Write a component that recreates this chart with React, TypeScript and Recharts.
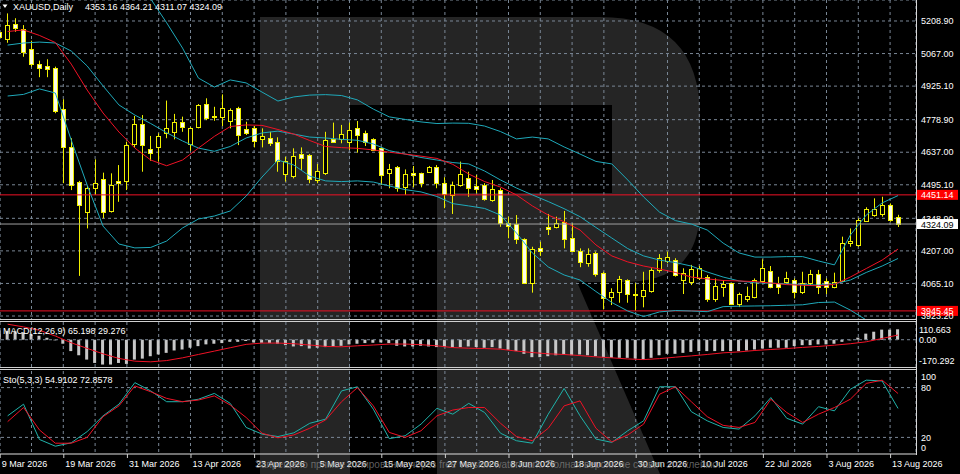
import React from 'react';
import { ComposedChart, Bar, Line, XAxis, YAxis, CartesianGrid, ReferenceLine } from 'recharts';

// XAUUSD daily, one entry per bar, 9 Mar – 14 Aug 2026 (bar 0 is cut by the left edge)
const opens = [
  5162, 5129, 5194, 5173, 5086, 5022, 5011, 5003, 4824, 4661,
  4509, 4378, 4480, 4520, 4382, 4512, 4513, 4673, 4759, 4651,
  4661, 4719, 4726, 4770, 4672, 4746, 4847, 4796, 4792, 4774,
  4828, 4737, 4741, 4693, 4698, 4683, 4542, 4535, 4629, 4625,
  4516, 4545, 4693, 4693, 4683, 4741, 4722, 4693, 4654, 4545,
  4571, 4484, 4545, 4545, 4549, 4574, 4504, 4451, 4494, 4523,
  4490, 4494, 4429, 4472, 4327, 4324, 4257, 4066, 4218, 4310,
  4310, 4334, 4262, 4208, 4153, 4196, 4112, 4007, 4026, 4080,
  4019, 4012, 4034, 4124, 4164, 4167, 4080, 4073, 4088, 4094,
  3998, 4051, 4066, 3976, 3996, 4007, 4077, 4121, 4066, 4073,
  4080, 4029, 4069, 4106, 4077, 4048, 4077, 4240, 4233, 4338,
  4363, 4368, 4407, 4353.16,
];
const highs = [
  5175, 5242, 5221, 5191, 5123, 5036, 5042, 5010, 4868, 4698,
  4512, 4490, 4606, 4548, 4545, 4581, 4683, 4795, 4799, 4708,
  4719, 4862, 4804, 4792, 4746, 4847, 4872, 4835, 4889, 4828,
  4835, 4770, 4751, 4741, 4726, 4702, 4617, 4654, 4658, 4629,
  4586, 4726, 4766, 4756, 4766, 4773, 4731, 4698, 4658, 4586,
  4577, 4562, 4577, 4548, 4577, 4581, 4528, 4509, 4596, 4552,
  4538, 4502, 4516, 4480, 4356, 4363, 4262, 4225, 4247, 4368,
  4356, 4381, 4327, 4218, 4218, 4204, 4116, 4044, 4098, 4083,
  4066, 4116, 4131, 4193, 4204, 4175, 4131, 4146, 4141, 4102,
  4087, 4080, 4068, 4025, 4051, 4087, 4170, 4141, 4094, 4116,
  4087, 4116, 4124, 4124, 4087, 4112, 4269, 4305, 4349, 4397,
  4436, 4443, 4414, 4364.21,
];
const lows = [
  5130, 5114, 5162, 5053, 5010, 4964, 4964, 4807, 4502, 4472,
  4098, 4305, 4451, 4349, 4374, 4421, 4472, 4657, 4552, 4600,
  4596, 4698, 4693, 4726, 4644, 4741, 4777, 4774, 4751, 4741,
  4668, 4712, 4658, 4658, 4664, 4552, 4509, 4523, 4560, 4502,
  4502, 4538, 4678, 4676, 4647, 4635, 4664, 4644, 4494, 4480,
  4465, 4451, 4484, 4484, 4548, 4480, 4393, 4368, 4487, 4443,
  4458, 4426, 4421, 4312, 4262, 4237, 4063, 4025, 4185, 4276,
  4305, 4218, 4204, 4136, 4138, 4095, 3952, 3971, 3981, 3981,
  3946, 3961, 4025, 4112, 4153, 4095, 4019, 4058, 4080, 3985,
  3985, 4007, 3971, 3962, 3985, 4000, 4069, 4044, 4019, 4066,
  4000, 4019, 4058, 4019, 4019, 4044, 4073, 4225, 4225, 4334,
  4356, 4356, 4334, 4311.07,
];
const closes = [
  5140, 5191, 5177, 5075, 5022, 5005, 4998, 4817, 4658, 4494,
  4407, 4482, 4504, 4375, 4494, 4504, 4668, 4759, 4668, 4635,
  4708, 4741, 4767, 4748, 4741, 4841, 4787, 4789, 4831, 4821,
  4712, 4722, 4687, 4708, 4678, 4600, 4599, 4621, 4613, 4519,
  4555, 4690, 4683, 4716, 4734, 4712, 4683, 4647, 4538, 4564,
  4480, 4542, 4539, 4504, 4574, 4504, 4455, 4494, 4541, 4480,
  4475, 4432, 4475, 4327, 4316, 4257, 4066, 4214, 4208, 4304,
  4330, 4257, 4208, 4157, 4193, 4106, 4000, 4026, 4083, 4018,
  4015, 4037, 4124, 4175, 4182, 4102, 4109, 4127, 4131, 3996,
  4054, 4063, 3976, 4018, 4010, 4080, 4131, 4048, 4051, 4090,
  4029, 4066, 4106, 4048, 4051, 4073, 4243, 4252, 4342, 4388,
  4388, 4407, 4342, 4324.09,
];
const macdMain = [
  58, 55, 52, 46, 36, 25, 12, -4, -25, -71,
  -97, -124, -145, -155, -155, -145, -151, -124, -118, -103,
  -92, -82, -67, -61, -50, -40, -29, -25, -21, -13,
  -13, -8, -17, -19, -21, -25, -34, -42, -40, -55,
  -50, -46, -42, -38, -29, -25, -21, -19, -17, -21,
  -38, -42, -42, -38, -42, -46, -46, -46, -46, -42,
  -46, -50, -46, -55, -63, -71, -88, -109, -109, -103,
  -97, -92, -97, -92, -97, -103, -109, -113, -113, -113,
  -118, -124, -113, -97, -88, -88, -82, -76, -71, -71,
  -71, -71, -71, -71, -67, -61, -55, -50, -50, -50,
  -40, -34, -34, -29, -29, -25, -13, -4, 13, 38,
  50, 63, 63, 65.198,
];

// indicator lines, read on every second bar (bars 1, 3, 5 ... 113)
const bandUpper = [
  5326, 5337, 5321, 5331, 5466, 5532, 5537, 5449, 5378, 5305,
  5201, 5091, 4960, 4921, 4952, 4939, 4899, 4860, 4878, 4886,
  4888, 4884, 4865, 4825, 4791, 4780, 4769, 4762, 4764, 4763,
  4751, 4727, 4695, 4703, 4695, 4660, 4629, 4597, 4586, 4516,
  4442, 4376, 4339, 4324, 4298, 4241, 4198, 4180, 4180, 4182,
  4182, 4163, 4146, 4276, 4363, 4416, 4448,
];
const bandMiddle = [
  5104, 5113, 5117, 5113, 5078, 5013, 4926, 4843, 4799, 4762,
  4722, 4686, 4655, 4641, 4662, 4699, 4721, 4729, 4716, 4703,
  4699, 4693, 4689, 4673, 4644, 4629, 4614, 4603, 4592, 4586,
  4555, 4516, 4481, 4451, 4422, 4391, 4356, 4309, 4263, 4217,
  4185, 4167, 4156, 4141, 4115, 4093, 4076, 4068, 4066, 4063,
  4060, 4058, 4063, 4080, 4113, 4141, 4174,
];
const bandLower = [
  4882, 4889, 4913, 4895, 4690, 4494, 4315, 4237, 4220, 4222,
  4250, 4307, 4346, 4359, 4381, 4446, 4529, 4603, 4581, 4533,
  4512, 4509, 4512, 4507, 4490, 4474, 4464, 4444, 4413, 4403,
  4392, 4363, 4285, 4198, 4137, 4102, 4080, 4030, 3982, 3945,
  3921, 3941, 3947, 3945, 3942, 3964, 3966, 3967, 3968, 3970,
  3972, 3982, 3984, 3949, 3906, 3862, 3819,
];
const maRed = [
  5163, 5170, 5146, 5115, 5021, 4908, 4808, 4725, 4655, 4603,
  4578, 4603, 4655, 4706, 4749, 4756, 4754, 4736, 4716, 4688,
  4662, 4657, 4654, 4647, 4637, 4629, 4620, 4610, 4584, 4542,
  4509, 4485, 4451, 4403, 4363, 4334, 4298, 4233, 4185, 4159,
  4141, 4128, 4113, 4093, 4085, 4078, 4076, 4073, 4067, 4060,
  4057, 4055, 4061, 4093, 4130, 4167, 4215,
];
const macdSignal = [
  97, 80, 59, 23, -19, -54, -88, -117, -134, -138,
  -130, -113, -92, -71, -50, -29, -21, -21, -25, -33,
  -42, -44, -38, -33, -27, -27, -31, -38, -49, -53,
  -55, -59, -71, -80, -88, -92, -99, -107, -113, -120,
  -124, -118, -109, -101, -92, -82, -76, -67, -61, -55,
  -48, -42, -34, -25, -13, 8, 29.276,
];
const stochK = [
  46, 60, 17.5, 9.4, 13.5, 27, 46, 60, 86, 76,
  63, 63, 66, 73, 61, 32, 24, 21, 25.5, 37,
  42, 76, 81, 54, 18.5, 22, 36, 55, 48, 61,
  50, 25, 16, 13, 48, 79, 46, 18, 14, 28,
  40, 81, 81, 51, 40, 32, 30, 46, 68, 43,
  36, 57, 52, 78, 89, 88, 54.9102,
];
const stochD = [
  39, 56, 29, 13, 13, 20, 45, 58, 82, 75,
  67, 63, 65, 70, 59, 44, 25, 19.5, 23, 31,
  41, 63, 80, 58, 26, 20, 28, 46, 53, 56,
  56, 37, 21, 16, 31, 58, 64, 31, 14.5, 23,
  36, 72, 81, 63, 45, 34.5, 32, 38, 66, 50,
  38, 48, 56, 66, 85, 89, 72.8578,
];

// one date label every 8 bars, starting at bar 0
const dateLabels = [
  '9 Mar 2026', '19 Mar 2026', '31 Mar 2026', '13 Apr 2026', '23 Apr 2026',
  '5 May 2026', '15 May 2026', '27 May 2026', '8 Jun 2026', '18 Jun 2026',
  '30 Jun 2026', '10 Jul 2026', '22 Jul 2026', '3 Aug 2026', '13 Aug 2026',
];
const priceTicks = [5208.9, 5067.0, 4925.1, 4778.9, 4637.0, 4495.1, 4348.9, 4207.0, 4065.1, 3923.2];
const macdTicks = [110.663, 0, -170.292];
const stochTicks = [100, 80, 20, 0];
const resistanceLevel = 4451.14;
const supportLevel = 3945.45;
const lastPrice = 4324.09;

const rows = opens.map((o, i) => {
  const s = i % 2 === 1 ? (i - 1) / 2 : -1;
  const pick = (arr: number[]) => (s >= 0 ? arr[s] : null);
  return {
    i,
    o,
    h: highs[i],
    l: lows[i],
    c: closes[i],
    range: [lows[i], highs[i]],
    macd: macdMain[i],
    up: pick(bandUpper),
    mid: pick(bandMiddle),
    low: pick(bandLower),
    ma: pick(maRed),
    sig: pick(macdSignal),
    k: pick(stochK),
    d: pick(stochD),
  };
});

const FONT = "'Liberation Sans', Arial, sans-serif";
const GRID = '#7a8796';
const YELLOW = '#f0f000';
const CYAN = '#1fa9ba';
const RED = '#f01226';
const TEAL = '#20b2aa';
const X_DOMAIN: [number, number] = [0.038, 115.26];
const gridTicks = Array.from({ length: 29 }, (_, j) => j * 4);
const NO_MARGIN = { top: 0, right: 0, bottom: 0, left: 0 };

function Candle(props: any) {
  const { x, y, width, height, payload } = props;
  if (x == null || !payload) return <g />;
  const { o, h, l, c } = payload;
  const top = Math.min(y, y + height);
  const hh = Math.abs(height);
  const py = (v: number) => top + ((h - v) / (h - l)) * hh;
  const cx = Math.round(x + width / 2) + 0.5;
  const b1 = Math.round(py(Math.max(o, c))) + 0.5;
  const b2 = Math.max(Math.round(py(Math.min(o, c))) + 0.5, b1 + 1);
  const bull = c >= o;
  return (
    <g>
      <line x1={cx} x2={cx} y1={top} y2={top + hh} stroke={YELLOW} strokeWidth={1} />
      <rect x={cx - 2} y={b1} width={4} height={b2 - b1} fill={bull ? '#000' : '#fdfdea'} stroke={YELLOW} strokeWidth={1} />
    </g>
  );
}

function priceTag(bg: string, fg: string, text: string) {
  return (props: any) => {
    const vb = props.viewBox || {};
    const right = vb.x + vb.width;
    return (
      <g>
        <rect x={right + 1} y={vb.y - 5} width={41} height={10} fill={bg} />
        <text x={right + 5} y={vb.y + 3.5} fill={fg} fontSize={9} fontFamily={FONT}>
          {text}
        </text>
      </g>
    );
  };
}

function sideTick(shift: Record<string, number>, fmt: (v: number) => string) {
  return (props: any) => {
    const { x, y, payload } = props;
    const v = payload.value as number;
    return (
      <text x={x} y={y + (shift[String(v)] || 0)} dy={3.2} fill="#fff" fontSize={9} fontFamily={FONT}>
        {fmt(v)}
      </text>
    );
  };
}

function DateTick(props: any) {
  const { x, y, payload } = props;
  const v = payload.value as number;
  if (v % 8 !== 0) return <g />;
  return (
    <g>
      <line x1={x + 0.5} x2={x + 0.5} y1={y} y2={y + 4} stroke="#cfcfcf" />
      <text x={x + 2} y={y + 12.5} fill="#fff" fontSize={9} fontFamily={FONT}>
        {dateLabels[v / 8]}
      </text>
    </g>
  );
}

const lineProps = { dot: false, activeDot: false, isAnimationActive: false, connectNulls: true, strokeWidth: 1, type: 'linear' as const };

export default function App() {
  return (
    <div style={{ position: 'fixed', left: 0, top: 0, width: 960, height: 474, background: '#000', overflow: 'hidden', fontFamily: FONT }}>
      {/* background logo */}
      <svg width={960} height={474} style={{ position: 'absolute', left: 0, top: 0 }}>
        <path
          d="M260,17 H600 Q700,17 700,117 V207 Q700,282 625,282 H577 L660,474 H437 V193 H612 V105 H350 V474 H260 Z"
          fill="#252525"
        />
      </svg>

      <div style={{ position: 'absolute', left: 0, top: 0 }}>
        <ComposedChart width={960} height={320} data={rows} margin={NO_MARGIN}>
          <CartesianGrid stroke={GRID} strokeDasharray="3 3" />
          <XAxis type="number" dataKey="i" domain={X_DOMAIN} ticks={gridTicks} interval={0} allowDataOverflow hide />
          <YAxis
            orientation="right"
            width={44}
            domain={[3905.8, 5300.4]}
            ticks={priceTicks}
            interval={0}
            allowDataOverflow
            axisLine={false}
            tickLine={false}
            tickSize={0}
            tickMargin={5}
            tick={sideTick({}, (v) => v.toFixed(2))}
          />
          <ReferenceLine y={lastPrice} stroke="#a0a0a0" label={priceTag('#ffffff', '#000000', lastPrice.toFixed(2))} />
          <ReferenceLine y={resistanceLevel} stroke={RED} label={priceTag('#ff0000', '#ffffff', resistanceLevel.toFixed(2))} />
          <ReferenceLine y={supportLevel} stroke={RED} label={priceTag('#ff0000', '#ffffff', supportLevel.toFixed(2))} />
          <Bar dataKey="range" barSize={5} shape={Candle} isAnimationActive={false} />
          <Line dataKey="up" stroke={CYAN} {...lineProps} />
          <Line dataKey="mid" stroke={CYAN} {...lineProps} />
          <Line dataKey="low" stroke={CYAN} {...lineProps} />
          <Line dataKey="ma" stroke={RED} {...lineProps} />
        </ComposedChart>
      </div>

      <div style={{ position: 'absolute', left: 0, top: 322 }}>
        <ComposedChart width={960} height={45} data={rows} margin={NO_MARGIN}>
          <CartesianGrid stroke={GRID} strokeDasharray="3 3" horizontal={false} />
          <XAxis type="number" dataKey="i" domain={X_DOMAIN} ticks={gridTicks} interval={0} allowDataOverflow hide />
          <YAxis
            orientation="right"
            width={44}
            domain={[-170.292, 110.663]}
            ticks={macdTicks}
            interval={0}
            allowDataOverflow
            axisLine={false}
            tickLine={false}
            tickSize={0}
            tickMargin={3}
            tick={sideTick({ '110.663': 8, '-170.292': -6 }, (v) => (v === 0 ? '0.00' : String(v)))}
          />
          <ReferenceLine y={0} stroke={GRID} strokeDasharray="3 3" />
          <Bar dataKey="macd" barSize={3} fill="#c8c8c8" isAnimationActive={false} />
          <Line dataKey="sig" stroke={RED} {...lineProps} />
        </ComposedChart>
      </div>

      <div style={{ position: 'absolute', left: 0, top: 371 }}>
        <ComposedChart width={960} height={103} data={rows} margin={NO_MARGIN}>
          <CartesianGrid stroke={GRID} strokeDasharray="3 3" horizontal={false} />
          <XAxis
            type="number"
            dataKey="i"
            domain={X_DOMAIN}
            ticks={gridTicks}
            interval={0}
            allowDataOverflow
            height={20}
            axisLine={{ stroke: '#e0e0e0' }}
            tickLine={false}
            tickSize={0}
            tickMargin={0}
            tick={DateTick}
          />
          <YAxis
            orientation="right"
            width={44}
            domain={[0, 100]}
            ticks={stochTicks}
            interval={0}
            axisLine={false}
            tickLine={false}
            tickSize={0}
            tickMargin={5}
            tick={sideTick({ '100': 6, '0': -6 }, (v) => String(v))}
          />
          <ReferenceLine y={80} stroke={GRID} strokeDasharray="3 3" />
          <ReferenceLine y={20} stroke={GRID} strokeDasharray="3 3" />
          <Line dataKey="k" stroke={TEAL} {...lineProps} />
          <Line dataKey="d" stroke={RED} {...lineProps} />
        </ComposedChart>
      </div>

      {/* frame, panel titles, watermark line */}
      <svg width={960} height={474} style={{ position: 'absolute', left: 0, top: 0, pointerEvents: 'none' }}>
        <rect x={0} y={319} width={916} height={1} fill="#d0d0d0" />
        <rect x={0} y={321} width={916} height={1} fill="#d0d0d0" />
        <rect x={0} y={367} width={916} height={1} fill="#d0d0d0" />
        <rect x={0} y={369} width={916} height={1} fill="#d0d0d0" />
        <rect x={916} y={0} width={1} height={455} fill="#d8d8d8" />
        <polygon points="2.5,4.5 7.5,4.5 5,8" fill="#fff" />
        <text x={13} y={10} fill="#fff" fontSize={9} fontFamily={FONT}>XAUUSD,Daily</text>
        <text x={85} y={10} fill="#fff" fontSize={9} fontFamily={FONT}>4353.16 4364.21 4311.07 4324.09</text>
        <text x={3} y={334} fill="#fff" fontSize={9} fontFamily={FONT}>MACD(12,26,9) 65.198 29.276</text>
        <text x={3} y={382.5} fill="#fff" fontSize={9} fontFamily={FONT}>Sto(5,3,3) 54.9102 72.8578</text>
        <text x={255} y={468} fill="#8a8a8a" fillOpacity={0.7} fontSize={10} fontFamily={FONT}>
          Запрещено прямое копирование через free version watermark. Полная версия не ставит это клеймо.
        </text>
      </svg>
    </div>
  );
}
